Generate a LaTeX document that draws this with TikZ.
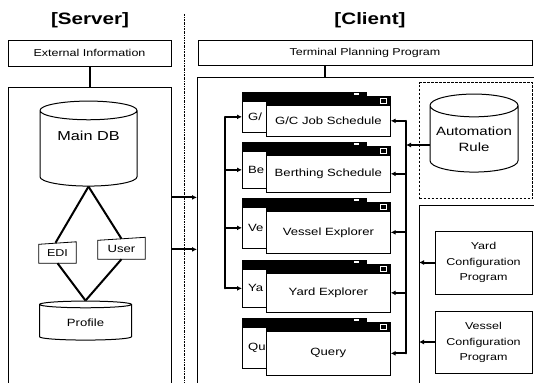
\documentclass[tikz,border=0pt]{standalone}
\usepackage{fontspec}
\setmainfont{Liberation Sans}
\newfontfamily\widesans[FakeStretch=1.25]{Liberation Sans}
\usetikzlibrary{shapes.geometric,arrows.meta}

\begin{document}
\begin{tikzpicture}[x=1pt, y=-1pt,
  frame/.style={draw, line width=0.8pt, rectangle, inner sep=0pt, anchor=north west},
  box/.style={draw, line width=0.8pt, rectangle, inner sep=0pt, align=center,
    font=\widesans\fontsize{10}{12}\selectfont},
  db/.style={draw, line width=1pt, cylinder, shape border rotate=90, inner sep=0pt, align=center,
    font=\widesans\fontsize{10.5}{12.6}\selectfont},
  winbody/.style={draw, fill=white, line width=0.7pt, rectangle, inner sep=0pt,
    anchor=north west, minimum width=124pt, font=\widesans\fontsize{10.5}{12.6}\selectfont},
  cutlabel/.style={anchor=west, inner sep=0pt, font=\widesans\fontsize{10.5}{12.6}\selectfont},
  conn/.style={line width=2pt},
  arr/.style={-{Latex[length=5pt,width=5pt]}},
  heading/.style={font=\widesans\fontsize{16.5}{19}\selectfont\bfseries},
  ]
\useasboundingbox (0,0) rectangle (534,382);
\providecommand{\titlebar}{black}
\providecommand{\titlebarheight}{9pt}

% Headings and the server / client divider
\node[heading] (srvtitle) at (90,20) {[Server]};
\node[heading] (clititle) at (370,20) {[Client]};
\draw[line width=0.7pt, dash pattern=on 2pt off 1pt on 0.6pt off 1pt] (184,14) -- (184,386);

% Server side
\node[box, minimum width=163pt, minimum height=26pt] (extinfo) at (89.5,53) {External Information};
\node[frame, minimum width=163pt, minimum height=300pt] (srvbox) at (8,87) {};
\draw[conn] (extinfo.south) -- (extinfo.south |- srvbox.north);

\node[db, minimum width=97pt, minimum height=85pt, aspect=0.3, text depth=25pt,
  font=\widesans\fontsize{13}{15}\selectfont] (maindb) at (88.5,148.5) {Main DB};
\node[db, minimum width=92pt, minimum height=39pt, aspect=0.18] (profile) at (85.5,322.5) {Profile};

% EDI and User inputs (slanted tops)
\node[inner sep=0pt, minimum width=37pt, minimum height=20pt, font=\widesans\fontsize{10}{12}\selectfont] (edi) at (57.5,253) {EDI};
\node[inner sep=0pt, minimum width=47pt, minimum height=20pt, font=\widesans\fontsize{10.5}{12.6}\selectfont] (user) at (121.5,249) {User};
\draw[line width=0.8pt] (edi.south west) -- ([yshift=-1.5pt]edi.north west) -- ([yshift=1pt]edi.north east) -- (edi.south east) -- cycle;
\draw[line width=0.8pt] (user.south west) -- ([yshift=-1.5pt]user.north west) -- ([yshift=1.5pt]user.north east) -- (user.south east) -- cycle;
\draw[conn] (maindb.south) -- ([xshift=-2pt]edi.north);
\draw[conn] (maindb.south) -- (user.north);
\draw[conn] (edi.south) -- (profile.north);
\draw[conn] (user.south) -- (profile.north);

% Client side
\node[box, minimum width=334pt, minimum height=25pt] (tpp) at (365,52.5) {Terminal Planning Program};
\node[frame, minimum width=340pt, minimum height=310pt] (clibox) at (197,77) {};
\draw[conn] ([xshift=-40pt]tpp.south) coordinate (tpplink) -- (tpplink |- clibox.north);

% Links from server to client
\draw[conn, arr] ([yshift=40pt]srvbox.east) coordinate (srvlink1) -- (srvlink1 -| clibox.west);
\draw[conn, arr] ([yshift=-12pt]srvbox.east) coordinate (srvlink2) -- (srvlink2 -| clibox.west);

% Application windows: back copy first, front copy over it
\node[winbody, minimum height=31pt] (gcback) at (242,101) {};
\fill[\titlebar] ([yshift=\titlebarheight]gcback.north west) rectangle (gcback.north east);
\fill[white] ([xshift=-13pt,yshift=8pt]gcback.north east) rectangle ++(5pt,-2pt);
\node[cutlabel] (gccut) at ([xshift=6pt]gcback.west) {G/};
\node[winbody, minimum height=31pt] (gcfront) at (266,105) {G/C Job Schedule};
\fill[\titlebar] ([yshift=\titlebarheight]gcfront.north west) rectangle (gcfront.north east);
\draw[white, line width=0.6pt] ([xshift=-10pt,yshift=7pt]gcfront.north east) rectangle ++(6pt,-5pt);

\node[winbody, minimum height=37pt] (berback) at (242,151) {};
\fill[\titlebar] ([yshift=\titlebarheight]berback.north west) rectangle (berback.north east);
\fill[white] ([xshift=-13pt,yshift=8pt]berback.north east) rectangle ++(5pt,-2pt);
\node[cutlabel] (bercut) at ([xshift=6pt]berback.west) {Be};
\node[winbody, minimum height=37pt] (berfront) at (266,155) {Berthing Schedule};
\fill[\titlebar] ([yshift=\titlebarheight]berfront.north west) rectangle (berfront.north east);
\draw[white, line width=0.6pt] ([xshift=-10pt,yshift=7pt]berfront.north east) rectangle ++(6pt,-5pt);

\node[winbody, minimum height=41pt] (vslback) at (242,207) {};
\fill[\titlebar] ([yshift=\titlebarheight]vslback.north west) rectangle (vslback.north east);
\fill[white] ([xshift=-13pt,yshift=8pt]vslback.north east) rectangle ++(5pt,-2pt);
\node[cutlabel] (vslcut) at ([xshift=6pt]vslback.west) {Ve};
\node[winbody, minimum height=42pt] (vslfront) at (266,211) {Vessel Explorer};
\fill[\titlebar] ([yshift=\titlebarheight]vslfront.north west) rectangle (vslfront.north east);
\draw[white, line width=0.6pt] ([xshift=-10pt,yshift=7pt]vslfront.north east) rectangle ++(6pt,-5pt);

\node[winbody, minimum height=38pt] (ydback) at (242,269) {};
\fill[\titlebar] ([yshift=\titlebarheight]ydback.north west) rectangle (ydback.north east);
\fill[white] ([xshift=-13pt,yshift=8pt]ydback.north east) rectangle ++(5pt,-2pt);
\node[cutlabel] (ydcut) at ([xshift=6pt]ydback.west) {Ya};
\node[winbody, minimum height=39pt] (ydfront) at (266,273) {Yard Explorer};
\fill[\titlebar] ([yshift=\titlebarheight]ydfront.north west) rectangle (ydfront.north east);
\draw[white, line width=0.6pt] ([xshift=-10pt,yshift=7pt]ydfront.north east) rectangle ++(6pt,-5pt);

\node[winbody, minimum height=41pt] (qryback) at (242,327) {};
\fill[\titlebar] ([yshift=\titlebarheight]qryback.north west) rectangle (qryback.north east);
\fill[white] ([xshift=-13pt,yshift=8pt]qryback.north east) rectangle ++(5pt,-2pt);
\node[cutlabel] (qrycut) at ([xshift=6pt]qryback.west) {Qu};
\node[winbody, minimum height=44pt] (qryfront) at (266,331) {Query};
\fill[\titlebar] ([yshift=\titlebarheight]qryfront.north west) rectangle (qryfront.north east);
\draw[white, line width=0.6pt] ([xshift=-10pt,yshift=7pt]qryfront.north east) rectangle ++(6pt,-5pt);

% Left bus into the back windows
\coordinate (lbus) at (225,0);
\draw[conn, line cap=round] (lbus |- gcback.west) -- (lbus |- ydback.west);
\draw[conn, arr] (lbus |- gcback.west) -- (gcback.west);
\draw[conn, arr] (lbus |- berback.west) -- (berback.west);
\draw[conn, arr] (lbus |- vslback.west) -- (vslback.west);
\draw[conn, arr] (lbus |- ydback.west) -- (ydback.west);

% Automation rule and configuration programs
\node[frame, line width=1.3pt, dash pattern=on 2.5pt off 1.5pt, minimum width=113pt, minimum height=116pt] (autobox) at (419,82) {};
\node[db, minimum width=88pt, minimum height=78pt, aspect=0.3, font=\widesans\fontsize{12}{16}\selectfont] (autorule) at (474,139) {Automation\\Rule};
\node[frame, minimum width=120pt, minimum height=185pt] (cfgframe) at (419,205) {};
\node[box, minimum width=97pt, minimum height=63pt] (yardcfg) at (483.5,262.5) {Yard\\[4pt]Configuration\\[3pt]Program};
\node[box, minimum width=97pt, minimum height=62pt] (vslcfg) at (483.5,342) {Vessel\\[4pt]Configuration\\[3pt]Program};

% Right bus into the front windows
\coordinate (rbus) at (406,0);
\draw[conn, line cap=round] (rbus |- gcfront.east) -- (rbus |- qryfront.east);
\draw[conn, arr] (rbus |- gcfront.east) -- (gcfront.east);
\draw[conn, arr] (rbus |- berfront.east) -- (berfront.east);
\draw[conn, arr] (rbus |- vslfront.east) -- (vslfront.east);
\draw[conn, arr] (rbus |- ydfront.east) -- (ydfront.east);
\draw[conn, arr] (rbus |- qryfront.east) -- (qryfront.east);
\draw[conn, arr] ([yshift=-6pt]autorule.west) coordinate (autolink) -- (autolink -| rbus);

\draw[conn, arr] (yardcfg.west) -- (yardcfg.west -| cfgframe.west);
\draw[conn, arr] (vslcfg.west) -- (vslcfg.west -| cfgframe.west);
\end{tikzpicture}
\end{document}
